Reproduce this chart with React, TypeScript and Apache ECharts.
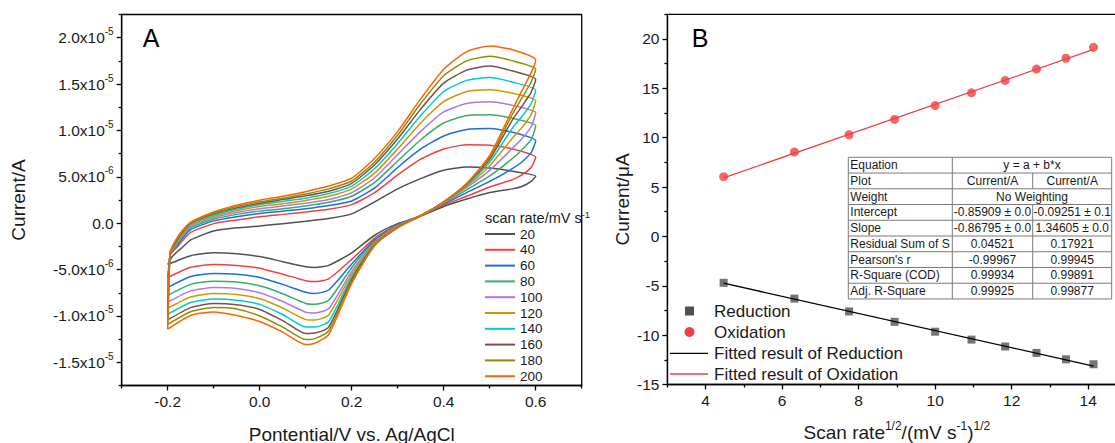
import React, { useEffect, useRef } from 'react';
import * as echarts from 'echarts';

const FONT = "'Liberation Sans', Arial, sans-serif";
const TXT = '#1a1a1a';

// ---------- Panel A : cyclic voltammograms ----------
const scanRates = ['20', '40', '60', '80', '100', '120', '140', '160', '180', '200'];
const cvColors = ['#515151', '#F14040', '#1A6FDF', '#37AD6B', '#B177DE', '#CC9900', '#00CBCC', '#7D4E4E', '#8E8E00', '#FB6501'];

// potentials (V) of the forward (anodic) and reverse (cathodic) sweeps
const forwardPotential = [-0.2, -0.195, -0.19, -0.18, -0.17, -0.15, -0.1, -0.05, 0, 0.05, 0.1, 0.15, 0.2, 0.25, 0.3, 0.35, 0.4, 0.45, 0.5, 0.55, 0.6];
const reversePotential = [0.6, 0.59, 0.57, 0.55, 0.5, 0.45, 0.4, 0.35, 0.3, 0.25, 0.2, 0.15, 0.12, 0.1, 0.05, 0, -0.05, -0.1, -0.15, -0.2];

// currents in µA
const fwd20 = [-4.46, -4.0, -3.6, -3.1, -2.7, -1.8, -0.85, -0.5, -0.3, -0.05, 0.2, 0.5, 1.0, 2.3, 3.7, 4.8, 5.7, 6.05, 5.95, 5.6, 5.07];
const fwd40 = [-5.86, -3.5, -3.1, -2.6, -2.0, -1.0, -0.05, 0.35, 0.7, 0.95, 1.2, 1.5, 2.0, 3.3, 5.2, 6.9, 8.0, 8.45, 8.4, 8.0, 7.1];
const fwd60 = [-6.94, -3.45, -3.0, -2.4, -1.75, -0.7, 0.25, 0.7, 1.05, 1.3, 1.55, 1.9, 2.4, 3.8, 6.0, 8.0, 9.4, 10.1, 10.2, 9.8, 8.9];
const fwd80 = [-7.8, -3.4, -2.95, -2.3, -1.6, -0.5, 0.45, 0.95, 1.3, 1.55, 1.85, 2.25, 2.9, 4.4, 6.7, 9.0, 10.8, 11.6, 11.7, 11.3, 10.5];
const fwd100 = [-8.52, -3.35, -2.85, -2.15, -1.45, -0.35, 0.6, 1.15, 1.55, 1.85, 2.15, 2.55, 3.3, 4.9, 7.4, 9.9, 12.0, 12.9, 13.1, 12.7, 11.9];
const fwd120 = [-9.17, -3.3, -2.8, -2.05, -1.35, -0.2, 0.75, 1.35, 1.8, 2.1, 2.45, 2.9, 3.7, 5.4, 8.0, 10.8, 13.1, 14.2, 14.4, 14.0, 13.2];
const fwd140 = [-9.82, -3.3, -2.7, -1.95, -1.2, -0.1, 0.88, 1.5, 2.0, 2.35, 2.7, 3.2, 4.0, 5.9, 8.6, 11.6, 14.2, 15.4, 15.7, 15.2, 14.35];
const fwd160 = [-10.43, -3.25, -2.65, -1.85, -1.1, 0.0, 1.0, 1.65, 2.15, 2.55, 2.95, 3.45, 4.3, 6.3, 9.1, 12.3, 15.1, 16.5, 16.95, 16.4, 15.5];
const fwd180 = [-10.9, -3.2, -2.6, -1.75, -1.0, 0.05, 1.1, 1.8, 2.3, 2.7, 3.15, 3.7, 4.55, 6.6, 9.5, 12.9, 15.9, 17.5, 18.0, 17.5, 16.6];
const fwd200 = [-11.43, -3.2, -2.5, -1.6, -0.9, 0.1, 1.2, 1.95, 2.48, 2.9, 3.4, 4.0, 4.85, 7.0, 9.9, 13.4, 16.6, 18.5, 19.1, 18.7, 17.6];

const rev20 = [5.07, 4.5, 3.95, 3.7, 3.3, 2.6, 1.8, 0.75, -0.05, -1.3, -3.2, -4.55, -4.78, -4.7, -4.15, -3.6, -3.3, -3.2, -3.5, -4.46];
const rev40 = [7.1, 6.0, 5.2, 4.7, 3.9, 2.9, 1.95, 0.8, -0.15, -1.6, -3.9, -6.0, -6.3, -6.2, -5.5, -4.85, -4.55, -4.46, -4.75, -5.86];
const rev60 = [8.9, 7.6, 6.6, 5.9, 4.5, 3.3, 2.05, 0.8, -0.2, -1.8, -4.4, -7.2, -7.58, -7.45, -6.6, -5.85, -5.5, -5.43, -5.75, -6.94];
const rev80 = [10.5, 9.0, 7.9, 7.0, 5.1, 3.6, 2.15, 0.8, -0.25, -1.95, -4.8, -8.3, -8.74, -8.65, -7.6, -6.75, -6.35, -6.26, -6.6, -7.8];
const rev100 = [11.9, 10.4, 9.1, 8.1, 5.7, 3.85, 2.2, 0.8, -0.3, -2.05, -5.2, -9.2, -9.68, -9.6, -8.45, -7.5, -7.05, -6.94, -7.3, -8.52];
const rev120 = [13.2, 11.7, 10.3, 9.2, 6.2, 4.0, 2.25, 0.8, -0.35, -2.15, -5.5, -9.9, -10.45, -10.4, -9.15, -8.15, -7.7, -7.58, -7.95, -9.17];
const rev140 = [14.35, 12.9, 11.5, 10.3, 6.6, 4.1, 2.3, 0.8, -0.4, -2.25, -5.8, -10.6, -11.2, -11.2, -9.85, -8.75, -8.3, -8.17, -8.55, -9.82];
const rev160 = [15.5, 14.1, 12.6, 11.2, 6.9, 4.2, 2.3, 0.8, -0.42, -2.3, -6.05, -11.2, -11.85, -11.9, -10.5, -9.3, -8.8, -8.66, -9.1, -10.43];
const rev180 = [16.6, 15.2, 13.5, 11.8, 7.1, 4.25, 2.3, 0.8, -0.45, -2.35, -6.3, -11.6, -12.45, -12.55, -11.2, -10.0, -9.25, -9.09, -9.55, -10.9];
const rev200 = [17.6, 16.2, 14.3, 12.3, 7.3, 4.3, 2.3, 0.8, -0.5, -2.4, -6.5, -12.0, -12.95, -13.09, -11.75, -10.6, -9.95, -9.57, -9.95, -11.43];

const forwardCurrents = [fwd20, fwd40, fwd60, fwd80, fwd100, fwd120, fwd140, fwd160, fwd180, fwd200];
const reverseCurrents = [rev20, rev40, rev60, rev80, rev100, rev120, rev140, rev160, rev180, rev200];

const leftXMajor = [-0.2, 0, 0.2, 0.4, 0.6];
const leftXMinor = [-0.3, -0.1, 0.1, 0.3, 0.5, 0.7];
const leftYMajor = [-1.5e-5, -1.0e-5, -5e-6, 0, 5e-6, 1.0e-5, 1.5e-5, 2.0e-5];
const leftYMinor = [-1.75e-5, -1.25e-5, -7.5e-6, -2.5e-6, 2.5e-6, 7.5e-6, 1.25e-5, 1.75e-5, 2.25e-5];

// ---------- Panel B : peak current vs sqrt(scan rate) ----------
const sqrtScanRate = [4.47, 6.32, 7.75, 8.94, 10.0, 10.95, 11.83, 12.65, 13.42, 14.14];
const reductionPeak = [-4.7, -6.3, -7.6, -8.65, -9.65, -10.45, -11.15, -11.8, -12.45, -12.95];
const oxidationPeak = [6.05, 8.55, 10.3, 11.85, 13.25, 14.55, 15.8, 16.95, 18.05, 19.15];
const fitX = [4.47, 14.14];
const fitReduction = [-4.74, -13.13];
const fitOxidation = [5.93, 18.94];

const rightXMajor = [4, 6, 8, 10, 12, 14];
const rightXMinor = [3, 5, 7, 9, 11, 13, 15];
const rightYMajor = [-15, -10, -5, 0, 5, 10, 15, 20];
const rightYMinor = [-12.5, -7.5, -2.5, 2.5, 7.5, 12.5, 17.5, 22.5];

const tableLabels = ['Equation', 'Plot', 'Weight', 'Intercept', 'Slope', 'Residual Sum of S', "Pearson's r", 'R-Square (COD)', 'Adj. R-Square'];
const tableReduction = ['y = a + b*x', 'Current/A', 'No Weighting', '-0.85909 ± 0.0', '-0.86795 ± 0.0', '0.04521', '-0.99967', '0.99934', '0.99925'];
const tableOxidation = ['', 'Current/A', '', '-0.09251 ± 0.1', '1.34605 ± 0.0', '0.17921', '0.99945', '0.99891', '0.99877'];
const tableSpans = [true, false, true, false, false, false, false, false, false];

const legendB = ['Reduction', 'Oxidation', 'Fitted result of Reduction', 'Fitted result of Oxidation'];

function sciLabel(v: number): string {
  if (Math.abs(v) < 1e-12) return '{n|0.0}';
  const e = Math.floor(Math.log10(Math.abs(v)) + 1e-9);
  const m = v / Math.pow(10, e);
  return `{n|${m.toFixed(1)}x10}{s|${e}}`;
}

const axisLineStyle = { color: '#000', width: 1.3 };
const TICK_FS = 15.5;
const TITLE_FS = 19;

function mainAxis(extra: any) {
  return {
    type: 'value',
    axisLine: { show: true, onZero: false, lineStyle: axisLineStyle },
    splitLine: { show: false },
    ...extra,
  };
}

function minorAxis(extra: any, ticks: number[]) {
  return {
    type: 'value',
    axisLine: { show: false, onZero: false },
    splitLine: { show: false },
    axisLabel: { show: false },
    axisTick: { show: true, length: 3, customValues: ticks, lineStyle: axisLineStyle },
    ...extra,
  };
}

export default function App() {
  const ref = useRef<HTMLDivElement>(null);

  useEffect(() => {
    if (!ref.current) return;
    const chart = echarts.init(ref.current, null, { renderer: 'svg' });

    const cvSeries = scanRates.map((name, k) => ({
      name,
      type: 'line',
      xAxisIndex: 0,
      yAxisIndex: 0,
      showSymbol: false,
      symbol: 'none',
      smooth: 0.2,
      lineStyle: { color: cvColors[k], width: 1.5 },
      itemStyle: { color: cvColors[k] },
      data: [
        ...forwardPotential.map((v, i) => [v, forwardCurrents[k][i] * 1e-6]),
        ...reversePotential.map((v, i) => [v, reverseCurrents[k][i] * 1e-6]),
      ],
    }));

    // table graphic
    const tX = 848.3, tY = 157.3, tW = 263.4, rowH = 15.74, c1 = 952.3, c2 = 1032.7;
    const tableEls: any[] = [
      { type: 'rect', shape: { x: tX, y: tY, width: tW, height: rowH * 9 }, style: { fill: '#fff', stroke: '#7a7a7a', lineWidth: 1 } },
      { type: 'line', shape: { x1: c1, y1: tY, x2: c1, y2: tY + rowH * 9 }, style: { stroke: '#7a7a7a', lineWidth: 1 } },
    ];
    for (let r = 1; r < 9; r++) {
      tableEls.push({ type: 'line', shape: { x1: tX, y1: tY + rowH * r, x2: tX + tW, y2: tY + rowH * r }, style: { stroke: '#7a7a7a', lineWidth: 1 } });
    }
    tableLabels.forEach((lab, r) => {
      const cy = tY + rowH * (r + 0.5);
      if (!tableSpans[r]) {
        tableEls.push({ type: 'line', shape: { x1: c2, y1: tY + rowH * r, x2: c2, y2: tY + rowH * (r + 1) }, style: { stroke: '#7a7a7a', lineWidth: 1 } });
      }
      tableEls.push({ type: 'text', x: tX + 2, y: cy, style: { text: lab, font: `12px ${FONT}`, fill: TXT, textAlign: 'left', textVerticalAlign: 'middle' } });
      if (tableSpans[r]) {
        tableEls.push({ type: 'text', x: (c1 + tX + tW) / 2, y: cy, style: { text: tableReduction[r], font: `12px ${FONT}`, fill: TXT, textAlign: 'center', textVerticalAlign: 'middle' } });
      } else {
        tableEls.push({ type: 'text', x: (c1 + c2) / 2, y: cy, style: { text: tableReduction[r], font: `12px ${FONT}`, fill: TXT, textAlign: 'center', textVerticalAlign: 'middle' } });
        tableEls.push({ type: 'text', x: (c2 + tX + tW) / 2, y: cy, style: { text: tableOxidation[r], font: `12px ${FONT}`, fill: TXT, textAlign: 'center', textVerticalAlign: 'middle' } });
      }
    });

    // legend B graphic
    const lgY = [311, 332, 353.3, 374];
    const legendEls: any[] = [
      { type: 'rect', shape: { x: 685, y: lgY[0] - 4.5, width: 9, height: 9 }, style: { fill: '#515151' } },
      { type: 'circle', shape: { cx: 689.5, cy: lgY[1], r: 5 }, style: { fill: '#F14040' } },
      { type: 'line', shape: { x1: 670, y1: lgY[2], x2: 708, y2: lgY[2] }, style: { stroke: '#000', lineWidth: 1.3 } },
      { type: 'line', shape: { x1: 670, y1: lgY[3], x2: 708, y2: lgY[3] }, style: { stroke: '#F14040', lineWidth: 1.3 } },
    ];
    legendB.forEach((t, i) => {
      legendEls.push({ type: 'text', x: 714, y: lgY[i], style: { text: t, font: `17px ${FONT}`, fill: TXT, textAlign: 'left', textVerticalAlign: 'middle' } });
    });

    const option: any = {
      animation: false,
      backgroundColor: '#fff',
      textStyle: { fontFamily: FONT },
      grid: [
        { left: 121.7, top: 14.5, width: 460, height: 371, show: true, borderColor: '#000', borderWidth: 1.3, containLabel: false, outerBoundsMode: 'none' },
        { left: 667.4, top: 14.3, width: 459, height: 370.2, show: true, borderColor: '#000', borderWidth: 1.3, containLabel: false, outerBoundsMode: 'none' },
      ],
      xAxis: [
        mainAxis({
          gridIndex: 0, position: 'bottom', min: -0.3, max: 0.7,
          axisTick: { show: true, length: 5, customValues: leftXMajor, lineStyle: axisLineStyle },
          axisLabel: { customValues: leftXMajor, formatter: (v: number) => v.toFixed(1), fontSize: TICK_FS, color: TXT, margin: 8, fontFamily: FONT },
          name: 'Pontential/V vs. Ag/AgCl', nameLocation: 'middle', nameGap: 39,
          nameTextStyle: { fontSize: TITLE_FS, color: TXT, fontFamily: FONT },
        }),
        minorAxis({ gridIndex: 0, position: 'bottom', min: -0.3, max: 0.7 }, leftXMinor),
        mainAxis({
          gridIndex: 1, position: 'bottom', min: 3, max: 15,
          axisTick: { show: true, length: 5, customValues: rightXMajor, lineStyle: axisLineStyle },
          axisLabel: { customValues: rightXMajor, fontSize: TICK_FS, color: TXT, margin: 8, fontFamily: FONT },
          name: '{n|Scan rate}{s|1/2}{n|/(mV s}{s|-1}{n|)}{s|1/2}', nameLocation: 'middle', nameGap: 35,
          nameTextStyle: {
            fontSize: TITLE_FS, color: TXT, fontFamily: FONT,
            rich: {
              n: { fontSize: TITLE_FS, color: TXT, fontFamily: FONT, lineHeight: 26 },
              s: { fontSize: 12, color: TXT, fontFamily: FONT, lineHeight: 13, verticalAlign: 'top' },
            },
          },
        }),
        minorAxis({ gridIndex: 1, position: 'bottom', min: 3, max: 15 }, rightXMinor),
      ],
      yAxis: [
        mainAxis({
          gridIndex: 0, position: 'left', min: -1.75e-5, max: 2.25e-5,
          axisTick: { show: true, length: 5, customValues: leftYMajor, lineStyle: axisLineStyle },
          axisLabel: {
            customValues: leftYMajor, formatter: sciLabel, margin: 8,
            rich: {
              n: { fontSize: TICK_FS, color: TXT, fontFamily: FONT, lineHeight: 22 },
              s: { fontSize: 10, color: TXT, fontFamily: FONT, lineHeight: 11, verticalAlign: 'top' },
            },
          },
          name: 'Current/A', nameLocation: 'middle', nameGap: 94,
          nameTextStyle: { fontSize: TITLE_FS, color: TXT, fontFamily: FONT },
        }),
        minorAxis({ gridIndex: 0, position: 'left', min: -1.75e-5, max: 2.25e-5 }, leftYMinor),
        mainAxis({
          gridIndex: 1, position: 'left', min: -15, max: 22.5,
          axisTick: { show: true, length: 5, customValues: rightYMajor, lineStyle: axisLineStyle },
          axisLabel: { customValues: rightYMajor, fontSize: TICK_FS, color: TXT, margin: 8, fontFamily: FONT },
          name: 'Current/μA', nameLocation: 'middle', nameGap: 35,
          nameTextStyle: { fontSize: TITLE_FS, color: TXT, fontFamily: FONT },
        }),
        minorAxis({ gridIndex: 1, position: 'left', min: -15, max: 22.5 }, rightYMinor),
      ],
      legend: {
        data: scanRates,
        orient: 'vertical',
        left: 484,
        top: 227,
        padding: 0,
        itemWidth: 30,
        itemHeight: 14,
        itemGap: 1.8,
        itemStyle: { opacity: 0, borderWidth: 0 },
        lineStyle: { width: 2 },
        textStyle: { fontSize: 13.5, color: TXT, fontFamily: FONT, lineHeight: 14 },
      },
      graphic: [
        { type: 'text', x: 151, y: 37.5, silent: true, style: { text: 'A', font: `25px ${FONT}`, fill: '#000', textAlign: 'center', textVerticalAlign: 'middle' } },
        { type: 'text', x: 700, y: 37.5, silent: true, style: { text: 'B', font: `25px ${FONT}`, fill: '#000', textAlign: 'center', textVerticalAlign: 'middle' } },
        {
          type: 'text', x: 485, y: 218, silent: true,
          style: {
            text: '{n|scan rate/mV s}{s|-1}', textAlign: 'left', textVerticalAlign: 'middle',
            rich: {
              n: { fontSize: 14.5, fill: TXT, fontFamily: FONT, lineHeight: 18 },
              s: { fontSize: 9.5, fill: TXT, fontFamily: FONT, lineHeight: 10, verticalAlign: 'top' },
            },
          },
        },
        { type: 'group', silent: true, children: tableEls },
        { type: 'group', silent: true, children: legendEls },
      ],
      series: [
        ...cvSeries,
        {
          name: 'Fitted result of Reduction', type: 'line', xAxisIndex: 2, yAxisIndex: 2,
          symbol: 'none', showSymbol: false,
          lineStyle: { color: '#000', width: 1.3 },
          data: fitX.map((x, i) => [x, fitReduction[i]]),
        },
        {
          name: 'Fitted result of Oxidation', type: 'line', xAxisIndex: 2, yAxisIndex: 2,
          symbol: 'none', showSymbol: false,
          lineStyle: { color: '#F14040', width: 1.3 },
          data: fitX.map((x, i) => [x, fitOxidation[i]]),
        },
        {
          name: 'Reduction', type: 'scatter', xAxisIndex: 2, yAxisIndex: 2,
          symbol: 'rect', symbolSize: 8,
          itemStyle: { color: '#515151' },
          data: sqrtScanRate.map((x, i) => [x, reductionPeak[i]]),
        },
        {
          name: 'Oxidation', type: 'scatter', xAxisIndex: 2, yAxisIndex: 2,
          symbol: 'circle', symbolSize: 9,
          itemStyle: { color: '#F14040' },
          data: sqrtScanRate.map((x, i) => [x, oxidationPeak[i]]),
        },
      ],
    };

    chart.setOption(option);
    return () => chart.dispose();
  }, []);

  return (
    <div style={{ position: 'fixed', left: 0, top: 0, width: 1115, height: 443, overflow: 'hidden', background: '#fff' }}>
      <div ref={ref} style={{ width: 1115, height: 443 }} />
    </div>
  );
}
